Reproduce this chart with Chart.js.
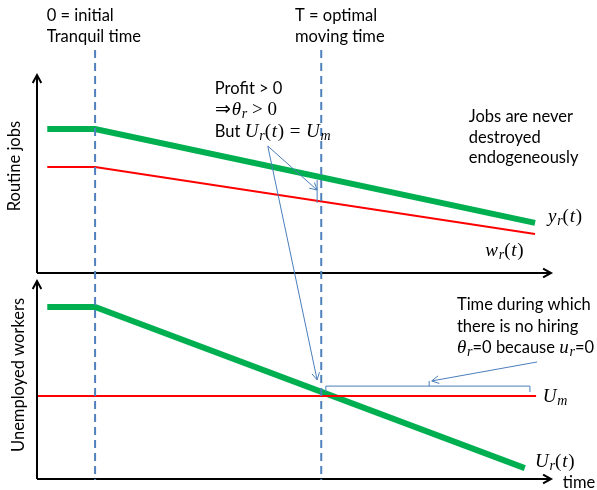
<!DOCTYPE html>
<html>
<head>
<meta charset="utf-8">
<script src="https://cdn.jsdelivr.net/npm/chart.js@4.4.1/dist/chart.umd.min.js"></script>
<style>
  html, body { margin: 0; padding: 0; background: #fff; }
  #wrap { position: relative; width: 597px; height: 490px; }
</style>
</head>
<body>
<div id="wrap"><canvas id="chart" width="597" height="490"></canvas></div>
<script>
// time axis runs 0..100 (arrow tip), both panels use 0..100 on their own y scale
const tranquilTime = 11.3;
const movingTime = 55.3;

// top panel: routine jobs
const timeTop = [2, 11.3, 96.9];
const outputYr = [72.7, 72.7, 25.3];
const wageWr = [53.5, 53.5, 19.7];

// bottom panel: unemployed workers
const timeUr = [2, 11.3, 94.9];
const unemployedUr = [83.5, 83.5, 5.3];
const timeUm = [0, 97.1];
const levelUm = [40.3, 40.3];

const GREEN = "#00b050";
const RED = "#ff0000";
const BLUE = "#4f81bd";
const THIN = "#4a7ebb";
const SANS = '16.5px Lato';
const MATH = '"Liberation Serif"';

function pts(xs, ys) {
  return xs.map((x, i) => ({ x: x, y: ys[i] }));
}

function line(xs, ys, axis, color, width) {
  return {
    data: pts(xs, ys),
    yAxisID: axis,
    showLine: true,
    borderColor: color,
    backgroundColor: color,
    borderWidth: width,
    pointRadius: 0,
    tension: 0,
    clip: false,
  };
}

// draw text made of pieces: n = sans, i = math italic, u = math upright, s = math subscript
function rich(ctx, x, y, parts) {
  let cx = x;
  for (const [t, k] of parts) {
    let dy = 0;
    if (k === "n") ctx.font = SANS;
    else if (k === "i") ctx.font = "italic 19px " + MATH;
    else if (k === "u") ctx.font = "19px " + MATH;
    else if (k === "s") { ctx.font = "italic 14px " + MATH; dy = 4; }
    ctx.fillText(t, cx, y + dy);
    cx += ctx.measureText(t).width + (k === "u" || k === "i" ? 0.8 : 0);
  }
}

function arrowHead(ctx, x1, y1, x2, y2, size) {
  const a = Math.atan2(y2 - y1, x2 - x1);
  ctx.beginPath();
  ctx.moveTo(x2 - size * Math.cos(a - 0.5), y2 - size * Math.sin(a - 0.5));
  ctx.lineTo(x2, y2);
  ctx.lineTo(x2 - size * Math.cos(a + 0.5), y2 - size * Math.sin(a + 0.5));
  ctx.stroke();
}

function arrow(ctx, x1, y1, x2, y2, size) {
  ctx.beginPath();
  ctx.moveTo(x1, y1);
  ctx.lineTo(x2, y2);
  ctx.stroke();
  arrowHead(ctx, x1, y1, x2, y2, size);
}

const overlay = {
  id: "overlay",
  afterDatasetsDraw(chart) {
    const ctx = chart.ctx;
    const sx = chart.scales.x;
    const st = chart.scales.yTop;
    const sb = chart.scales.yBot;
    const X = (v) => sx.getPixelForValue(v);
    const T = (v) => st.getPixelForValue(v);
    const B = (v) => sb.getPixelForValue(v);

    ctx.save();
    ctx.lineCap = "butt";

    // axes with arrows
    ctx.strokeStyle = "#000";
    ctx.lineWidth = 2;
    arrow(ctx, X(0), T(0), X(0), T(100), 9);
    arrow(ctx, X(0), T(0), X(100), T(0), 9);
    arrow(ctx, X(0), B(0), X(0), B(96.1), 9);
    arrow(ctx, X(0), B(0), X(100), B(0), 9);

    // dashed time markers
    ctx.strokeStyle = BLUE;
    ctx.lineWidth = 2;
    ctx.setLineDash([8, 5]);
    for (const t of [tranquilTime, movingTime]) {
      ctx.beginPath();
      ctx.moveTo(X(t), T(112.6));
      ctx.lineTo(X(t), B(-0.5));
      ctx.stroke();
    }
    ctx.setLineDash([]);

    // thin pointers
    ctx.strokeStyle = THIN;
    ctx.lineWidth = 1;
    arrow(ctx, X(44.9), T(64.1), X(54.5), T(41.9), 8);
    arrow(ctx, X(44.9), T(64.1), X(54.5), B(48.1), 8);
    ctx.beginPath();
    ctx.moveTo(X(54.5), T(47.0));
    ctx.lineTo(X(54.5), T(35.4));
    ctx.stroke();

    // bracket: time with no hiring
    ctx.beginPath();
    ctx.moveTo(X(56.2), B(42.2));
    ctx.lineTo(X(56.2), B(45.1));
    ctx.lineTo(X(95.9), B(45.1));
    ctx.lineTo(X(95.9), B(42.2));
    ctx.moveTo(X(76.3), B(45.1));
    ctx.lineTo(X(76.3), B(47.6));
    ctx.stroke();
    arrow(ctx, X(97.3), B(56.8), X(76.8), B(47.6), 8);

    // texts
    ctx.fillStyle = "#000";
    ctx.textAlign = "left";
    ctx.textBaseline = "middle";
    ctx.font = SANS;
    ctx.fillText("0 = initial", X(1.9), T(129.8));
    ctx.fillText("Tranquil time", X(1.9), T(119.2));
    ctx.fillText("T = optimal", X(50.2), T(129.8));
    ctx.fillText("moving time", X(50.2), T(119.2));

    ctx.fillText("Profit > 0", X(34.6), T(92.9));
    rich(ctx, X(34.6), T(82.3), [["⇒", "u"], ["θ", "i"], ["r", "s"], [" > 0", "u"]]);
    rich(ctx, X(34.6), T(71.2), [["But ", "n"], ["U", "i"], ["r", "s"], ["(", "u"], ["t", "i"], [")", "u"], [" = ", "u"], ["U", "i"], ["m", "s"]]);

    ctx.font = SANS;
    ctx.fillText("Jobs are never", X(84.0), T(78.8));
    ctx.fillText("destroyed", X(84.0), T(68.2));
    ctx.fillText("endogeneously", X(84.0), T(58.1));

    rich(ctx, X(99.4), T(28.3), [["y", "i"], ["r", "s"], ["(", "u"], ["t", "i"], [")", "u"]]);
    rich(ctx, X(87.2), T(11.1), [["w", "i"], ["r", "s"], ["(", "u"], ["t", "i"], [")", "u"]]);

    ctx.font = SANS;
    ctx.fillText("Time during which", X(81.7), B(84.5));
    ctx.fillText("there is no hiring", X(81.7), B(73.8));
    rich(ctx, X(81.7), B(63.6), [["θ", "i"], ["r", "s"], ["=0 because ", "n"], ["u", "i"], ["r", "s"], ["=0", "n"]]);

    rich(ctx, X(98.4), B(39.8), [["U", "i"], ["m", "s"]]);
    rich(ctx, X(96.9), B(8.3), [["U", "i"], ["r", "s"], ["(", "u"], ["t", "i"], [")", "u"]]);
    ctx.font = SANS;
    ctx.fillText("time", X(102.3), B(-1.9));

    // axis titles
    ctx.textAlign = "center";
    ctx.save();
    ctx.translate(X(-4.3), T(54));
    ctx.rotate(-Math.PI / 2);
    ctx.fillText("Routine jobs", 0, 0);
    ctx.restore();
    ctx.save();
    ctx.translate(X(-3.5), B(50.5));
    ctx.rotate(-Math.PI / 2);
    ctx.fillText("Unemployed workers", 0, 0);
    ctx.restore();

    ctx.restore();
  },
};

new Chart(document.getElementById("chart"), {
  type: "scatter",
  data: {
    datasets: [
      line(timeTop, outputYr, "yTop", GREEN, 6),
      line(timeTop, wageWr, "yTop", RED, 2),
      line(timeUm, levelUm, "yBot", RED, 2),
      line(timeUr, unemployedUr, "yBot", GREEN, 6),
    ],
  },
  options: {
    responsive: false,
    devicePixelRatio: 1,
    animation: false,
    layout: { padding: { left: 37, right: 46, top: 75, bottom: 11 } },
    plugins: { legend: { display: false }, tooltip: { enabled: false } },
    scales: {
      x: { type: "linear", min: 0, max: 100, display: false },
      yTop: { axis: "y", type: "linear", position: "left", min: 0, max: 100, display: false, stack: "panels", stackWeight: 198, weight: 1 },
      yBot: { axis: "y", type: "linear", position: "left", min: 0, max: 100, display: false, stack: "panels", stackWeight: 206, weight: 0 },
    },
  },
  plugins: [overlay],
});
</script>
</body>
</html>
